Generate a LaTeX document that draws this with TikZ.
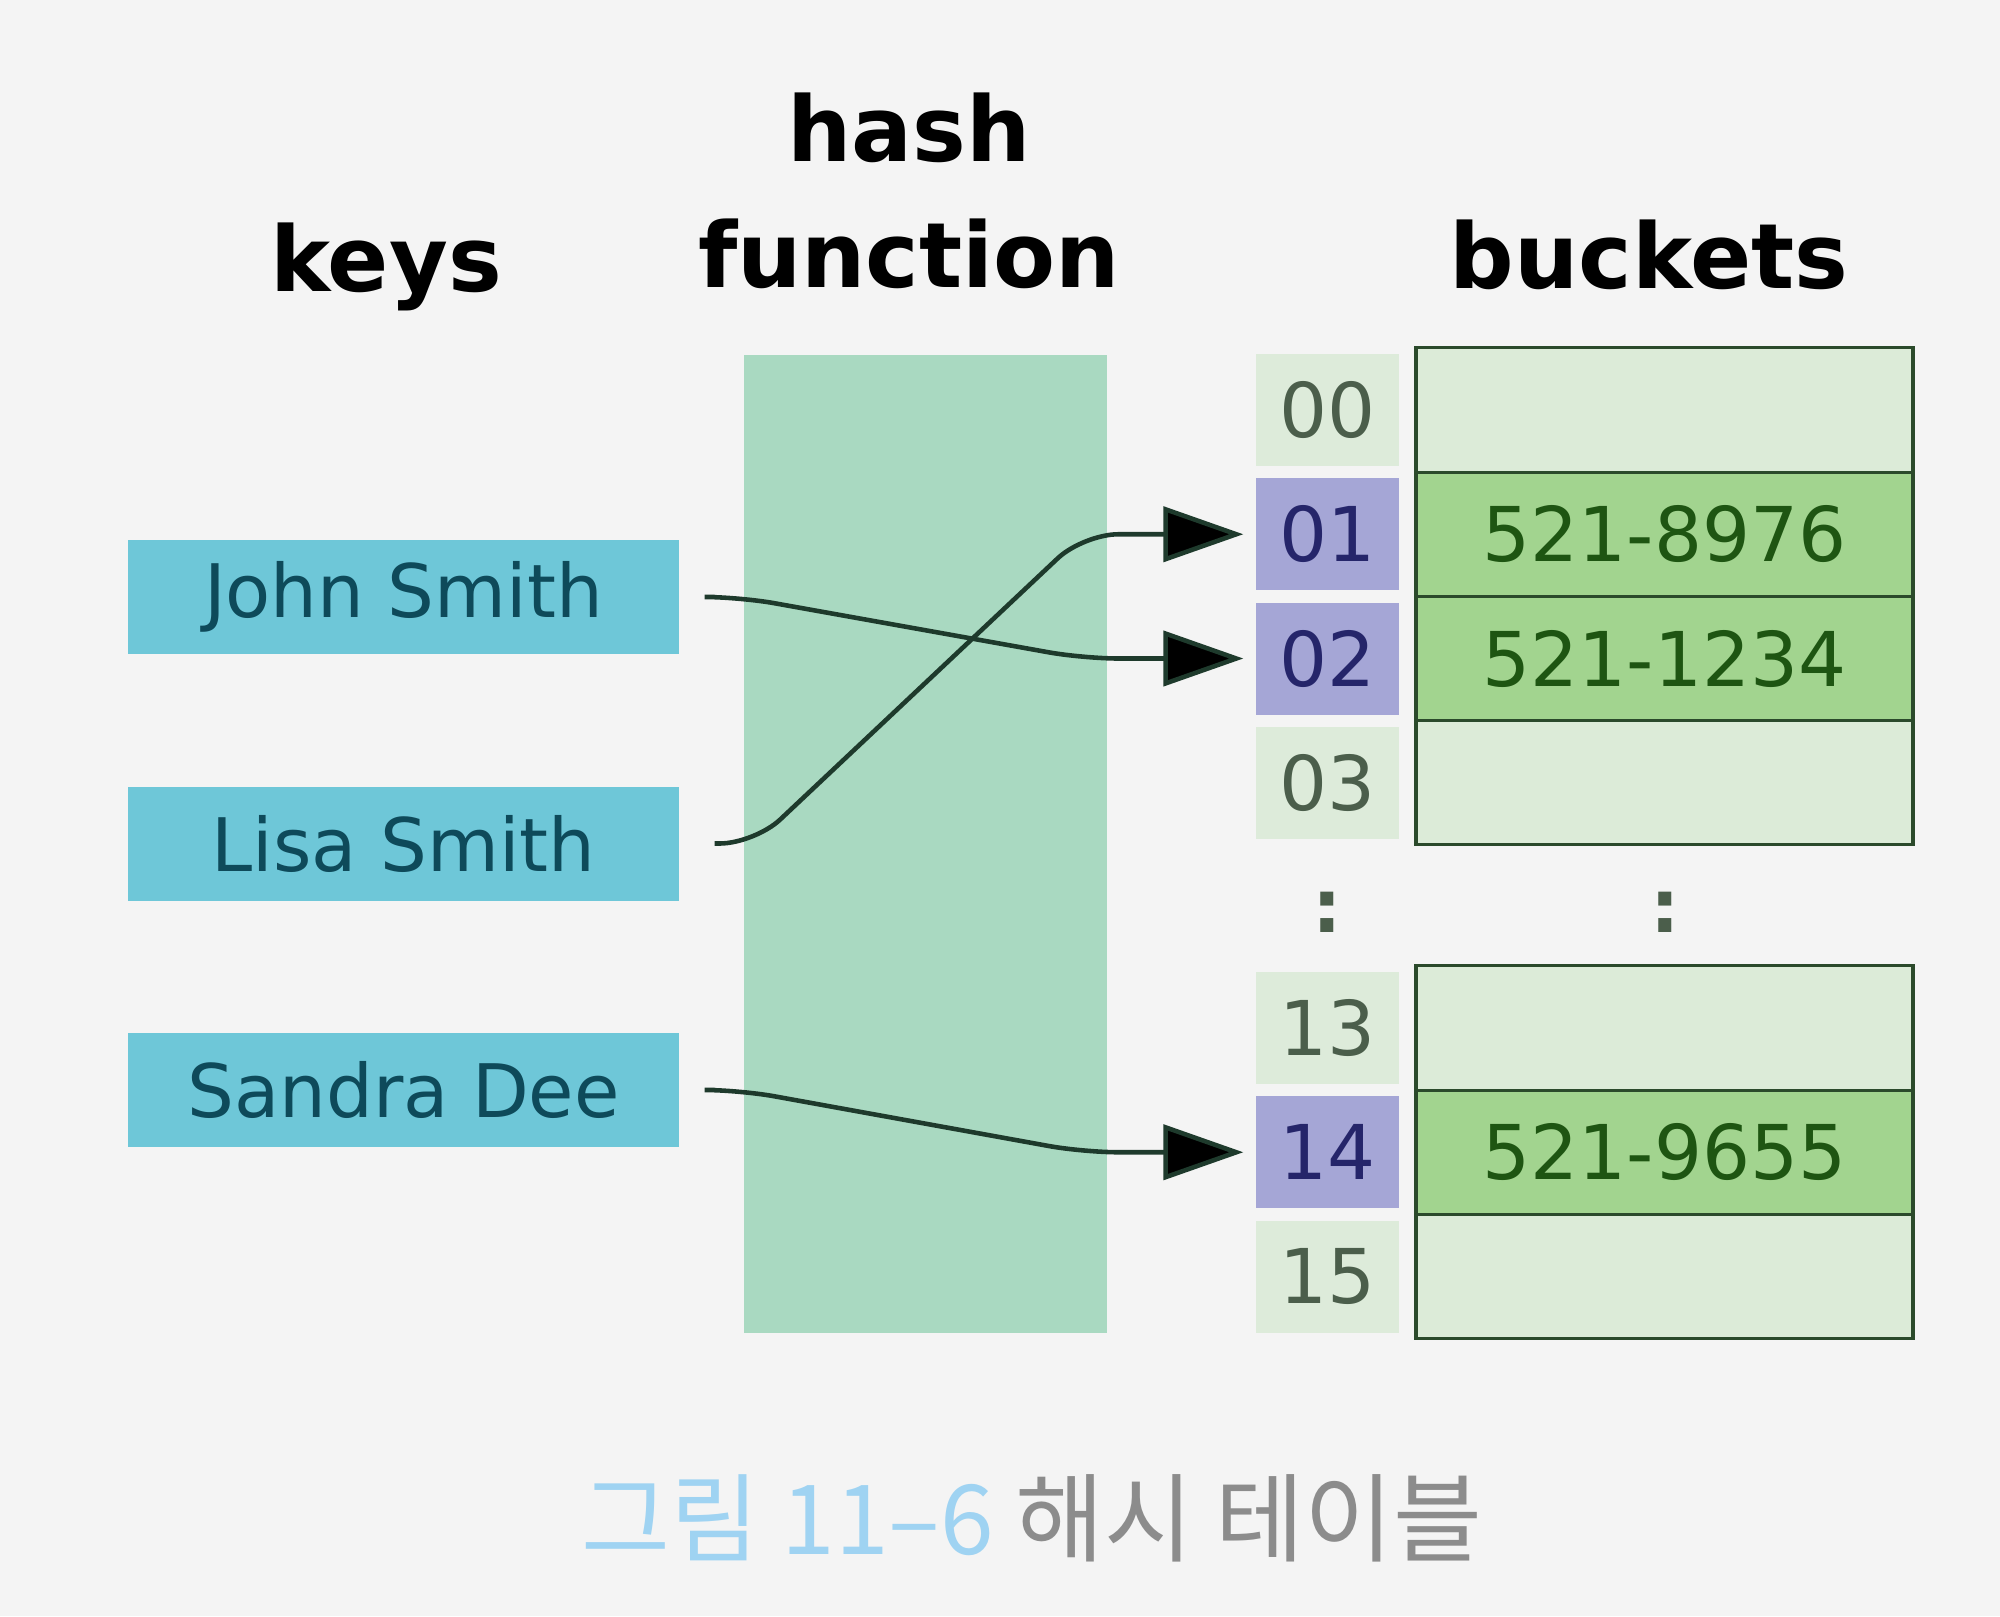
\documentclass[tikz,border=0pt]{standalone}
\usepackage{fontspec}
\setmainfont{DejaVu Sans}
\newfontfamily\krfont{Noto Sans CJK KR}
\usetikzlibrary{positioning,arrows.meta}

\definecolor{bgcol}{HTML}{F4F4F4}
\definecolor{keycol}{HTML}{6EC7D8}
\definecolor{keytext}{HTML}{0E4A5A}
\definecolor{hashcol}{HTML}{A9D9C1}
\definecolor{idxcol}{HTML}{DDEBDA}
\definecolor{idxtext}{HTML}{4B5E4B}
\definecolor{hitcol}{HTML}{A5A6D6}
\definecolor{hittext}{HTML}{25256A}
\definecolor{slotcol}{HTML}{DCEBD8}
\definecolor{fullcol}{HTML}{A2D48F}
\definecolor{slotline}{HTML}{2B4A2B}
\definecolor{slottext}{HTML}{1E5512}
\definecolor{linkcol}{HTML}{1E3A2C}
\definecolor{capblue}{HTML}{9FD3F2}
\definecolor{capgray}{HTML}{8C8C8C}

\begin{document}
\begin{tikzpicture}[node distance=1.2425cm,
  title node/.style={anchor=base, align=center, font=\bfseries\fontsize{25.7}{35.6}\selectfont},
  key node/.style={fill=keycol, minimum width=5.51cm, minimum height=1.14cm, text=keytext, font=\fontsize{21}{25}\selectfont},
  idx node/.style={fill=idxcol, minimum width=1.43cm, minimum height=1.12cm, text=idxtext, font=\fontsize{21.5}{25}\selectfont},
  hit node/.style={idx node, fill=hitcol, text=hittext},
  slot node/.style={draw=slotline, line width=0.9pt, fill=slotcol, minimum width=4.97cm, minimum height=1.2425cm, text=slottext, font=\fontsize{21.5}{25}\selectfont},
  full node/.style={slot node, fill=fullcol},
  link/.style={draw=linkcol, line width=1.3pt, rounded corners=0.35cm, shorten <=0.35cm, shorten >=0.12cm, -{Triangle[length=0.8cm,width=0.55cm,fill=black]}}]

  \fill[bgcol] (0,0) rectangle (20,-16.16);
  \useasboundingbox (0,0) rectangle (20,-16.16);

  % column titles
  \node[title node] (keys) at (3.86,-2.91) {keys};
  \node[title node] (hash) at (9.09,-2.87) {hash\\function};
  \node[title node] (buckets) at (16.49,-2.88) {buckets};

  % hash function
  \node[fill=hashcol, minimum width=3.63cm, minimum height=9.78cm] (h) at (9.255,-8.44) {};

  % keys
  \node[key node] (1) at (4.035,-5.97) {John Smith};
  \node[key node] (2) [below of=1, node distance=2.465cm] {Lisa Smith};
  \node[key node] (3) [below of=2, node distance=2.465cm] {Sandra Dee};

  % bucket indices
  \node[idx node] (i0) at (13.275,-4.10) {00};
  \node[hit node] (i1) [below of=i0] {01};
  \node[hit node] (i2) [below of=i1] {02};
  \node[idx node] (i3) [below of=i2] {03};
  \node[idx node] (i13) at (13.275,-10.28) {13};
  \node[hit node] (i14) [below of=i13] {14};
  \node[idx node] (i15) [below of=i14] {15};

  % buckets
  \node[slot node] (b0) at (16.645,-4.10) {};
  \node[full node] (b1) [below of=b0] {521-8976};
  \node[full node] (b2) [below of=b1] {521-1234};
  \node[slot node] (b3) [below of=b2] {};
  \node[slot node] (b13) at (16.645,-10.28) {};
  \node[full node] (b14) [below of=b13] {521-9655};
  \node[slot node] (b15) [below of=b14] {};

  \node[text=idxtext, font=\bfseries\fontsize{21}{25}\selectfont] (d1) at (13.27,-9.12) {:};
  \node[text=idxtext, font=\bfseries\fontsize{21}{25}\selectfont] (d2) at (16.65,-9.12) {:};

  % hashing
  \draw[link] (1.east) -- ([xshift=0.6cm]1.east) -- ([xshift=-1.72cm]i2.west) -- (i2.west);
  \draw[link] (2.east) -- ([xshift=0.75cm]2.east) -- ([xshift=-1.72cm]i1.west) -- (i1.west);
  \draw[link] (3.east) -- ([xshift=0.6cm]3.east) -- ([xshift=-1.72cm]i14.west) -- (i14.west);

  % caption
  \node[font=\krfont\fontsize{27.5}{32}\selectfont] (cap) at (10.32,-15.18) {\textcolor{capblue}{그림 11–6} \textcolor{capgray}{해시 테이블}};
\end{tikzpicture}
\end{document}
